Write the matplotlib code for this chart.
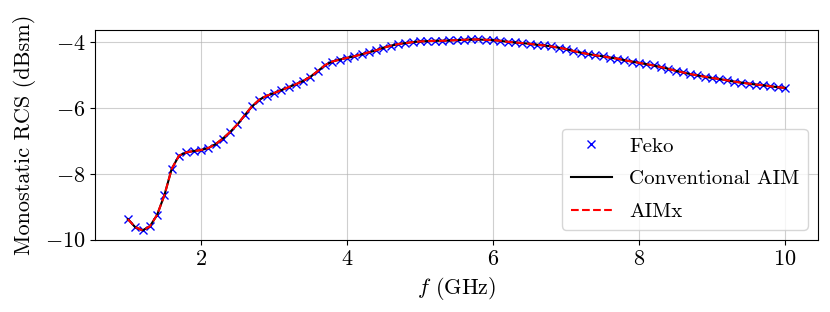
import numpy as np
import matplotlib
matplotlib.use("Agg")
import matplotlib.pyplot as plt

plt.rcParams['font.family'] = 'serif'
plt.rcParams['font.serif'] = ['cmr10', 'DejaVu Serif']
plt.rcParams['mathtext.fontset'] = 'cm'
plt.rcParams['axes.formatter.use_mathtext'] = True
plt.rcParams['font.size'] = 16

freq = [round(1.0 + 0.1 * i, 1) for i in range(91)]
rcs_feko = [
    -9.38, -9.62, -9.72, -9.60, -9.25, -8.65, -7.85, -7.45, -7.35, -7.31,
    -7.28, -7.22, -7.10, -6.93, -6.73, -6.50, -6.22, -5.95, -5.75, -5.63,
    -5.55, -5.46, -5.37, -5.28, -5.18, -5.05, -4.88, -4.70, -4.59, -4.53,
    -4.48, -4.43, -4.37, -4.31, -4.25, -4.17, -4.11, -4.06, -4.03, -4.00,
    -3.98, -3.97, -3.96, -3.96, -3.95, -3.94, -3.93, -3.92, -3.92, -3.93,
    -3.94, -3.96, -3.99, -4.01, -4.03, -4.05, -4.08, -4.10, -4.13, -4.17,
    -4.21, -4.27, -4.32, -4.36, -4.40, -4.43, -4.47, -4.50, -4.55, -4.59,
    -4.63, -4.67, -4.71, -4.76, -4.81, -4.87, -4.92, -4.97, -5.01, -5.05,
    -5.09, -5.12, -5.16, -5.20, -5.23, -5.26, -5.29, -5.31, -5.34, -5.37,
    -5.39,
]
rcs_conv = list(rcs_feko)
rcs_aimx = list(rcs_feko)

fig = plt.figure(figsize=(8.30, 3.12), dpi=100)
ax = fig.add_axes([0.1145, 0.231, 0.871, 0.673])

ax.plot(freq, rcs_feko, linestyle='none', marker='x', color='blue',
        markersize=6, markeredgewidth=1.0, label='Feko')
ax.plot(freq, rcs_conv, color='black', linewidth=1.5, label='Conventional AIM')
ax.plot(freq, rcs_aimx, color='red', linestyle='--', linewidth=1.5, label='AIMx')

ax.set_xticks([2, 4, 6, 8, 10])
ax.set_yticks([-10, -8, -6, -4])
ax.grid(True, color='#b0b0b0', alpha=0.6, linewidth=0.8)
ax.set_xlabel(r'$f$ (GHz)')
ax.set_ylabel('Monostatic RCS (dBsm)', labelpad=6)
ax.legend(loc='lower right', fontsize=15, labelspacing=0.68)

fig.savefig('out.png', dpi=100)
